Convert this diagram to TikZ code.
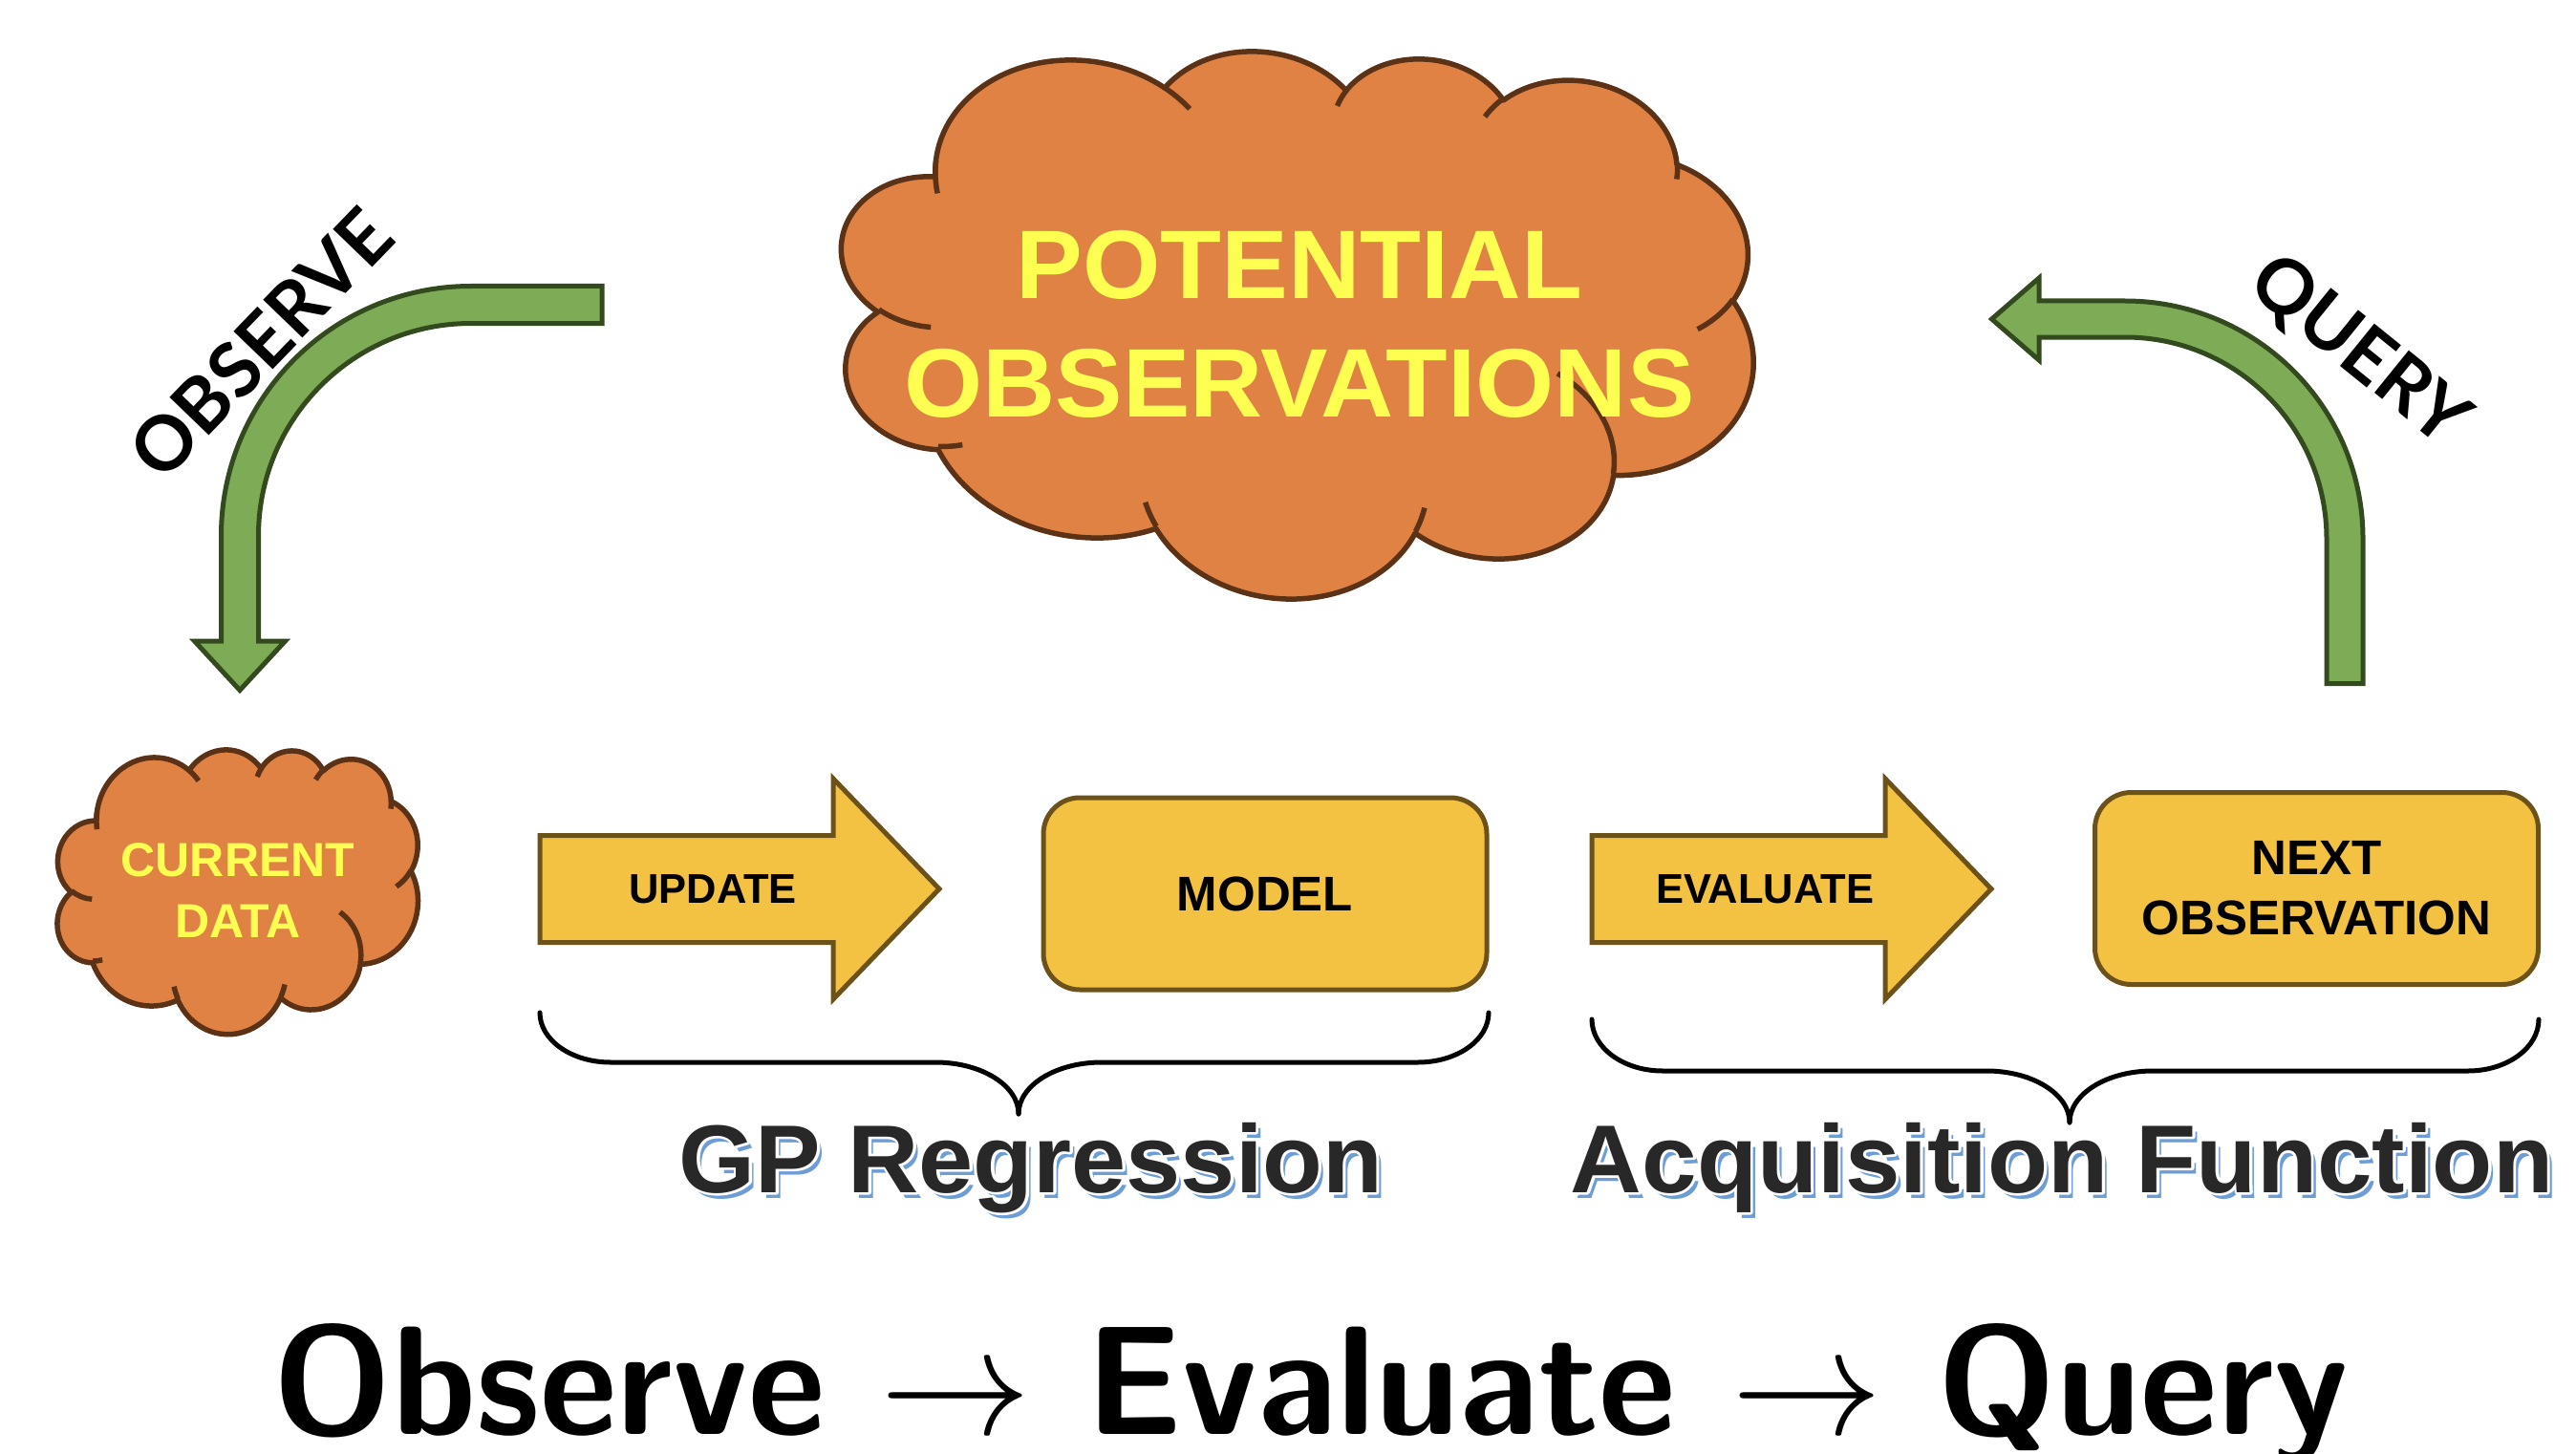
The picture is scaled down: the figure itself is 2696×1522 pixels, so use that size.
\documentclass[tikz,border=0pt]{standalone}
\usepackage{graphicx}
\usepackage{fontspec}
\newfontfamily\shapefont{Liberation Sans}
\newfontfamily\turnfont{Lato}

\definecolor{cloudfill}{RGB}{223,130,68}
\definecolor{cloudline}{RGB}{92,50,22}
\definecolor{cloudtext}{RGB}{255,255,82}
\definecolor{goldfill}{RGB}{244,194,66}
\definecolor{goldline}{RGB}{108,82,25}
\definecolor{greenfill}{RGB}{126,171,85}
\definecolor{greenline}{RGB}{50,74,30}
\definecolor{labelgray}{RGB}{40,40,40}
\definecolor{shadowblue}{RGB}{108,157,215}

% text with a white halo: a stroked white copy under the filled text
\newcommand\haloed[1]{\leavevmode\rlap{\color{white}%
  \special{pdf:literal direct 1 Tr 5.2 w 1 j}#1\special{pdf:literal direct 0 Tr}}#1}

% thin computer-modern arrow enlarged to the size of the bottom line
\newcommand\bigto{\scalebox{16.2}{\fontsize{10}{12}\selectfont$\rightarrow$}}

% Elliptic arc given DrawingML style: radii, start angle and sweep are
% visual angles; they are turned into parametric angles for TikZ.
\newcommand\cloudarc[4]{%
  \pgfextra{%
    \pgfmathparse{atan2((#1)*sin(#3),(#2)*cos(#3))}\global\let\cldA\pgfmathresult
    \pgfmathparse{atan2((#1)*sin((#3)+(#4)),(#2)*cos((#3)+(#4)))}\global\let\cldB\pgfmathresult
    \pgfmathparse{mod((\cldB)-(\cldA)+720,360)}\global\let\cldD\pgfmathresult
  }%
  arc[start angle=\cldA, delta angle=\cldD, x radius=#1, y radius=#2]%
}

% Cloud outline (432 x 432 design box, centred on the origin),
% placed at (#1,#2), stretched to #3 x #4 and turned slightly.
\newcommand\ooxcloud[4]{%
  \pgfmathsetmacro\cldsx{(#3)/432}%
  \pgfmathsetmacro\cldsy{(#4)/432}%
  \begin{scope}[shift={(#1,#2)}, rotate=8, xscale=\cldsx, yscale=\cldsy]
    \filldraw[cloudbody] (-177.00,-72.30)
      \cloudarc{67.53}{91.90}{-190.48748}{123.78053}
      \cloudarc{53.33}{72.67}{-144.10238}{89.94523}
      \cloudarc{43.65}{59.45}{-145.80792}{99.72302}
      \cloudarc{48.57}{65.95}{-130.98607}{117.24173}
      \cloudarc{53.33}{72.73}{-78.70888}{109.02692}
      \cloudarc{67.75}{92.20}{-46.26725}{130.26900}
      \cloudarc{57.85}{78.67}{0.62502}{114.03333}
      \cloudarc{67.52}{92.15}{22.45160}{115.17255}
      \cloudarc{77.20}{105.43}{66.24263}{75.22347}
      \cloudarc{43.60}{59.45}{-274.94208}{146.73557}
      \cloudarc{43.45}{59.45}{-246.82850}{152.51885}
      -- cycle;
    \draw[cloudrim]
      (-169.07,45.77) \cloudarc{43.45}{59.45}{86.74200}{26.42950}
      (-146.72,132.99) \cloudarc{43.60}{59.45}{73.61047}{11.44747}
      (-51.22,174.90) \cloudarc{67.52}{92.15}{137.62415}{14.08110}
      (72.27,131.51) \cloudarc{67.52}{92.15}{6.45327}{15.99835}
      (125.29,13.54) \cloudarc{57.85}{78.67}{-70.29235}{70.91737}
      (201.98,-62.46) \cloudarc{53.33}{72.73}{30.31803}{27.75150}
      (167.24,-161.74) \cloudarc{48.57}{65.95}{-13.74433}{14.85890}
      (74.78,-176.48) \cloudarc{48.57}{65.95}{-149.18145}{18.19537}
      (5.41,-168.80) \cloudarc{43.65}{59.45}{-163.49427}{17.68635}
      (-76.00,-164.08) \cloudarc{67.53}{91.90}{-66.70695}{12.31935}
      (-174.73,-58.11) \cloudarc{67.53}{91.90}{157.96947}{21.19580};
  \end{scope}}

\tikzset{
  cloudbody/.style={fill=cloudfill, draw=cloudline, line width=5.5pt, line join=round},
  cloudrim/.style={draw=cloudline, line width=5.5pt},
  cloudlabel/.style={text=cloudtext, inner sep=0pt, align=center},
  greenarrow/.style={fill=greenfill, draw=greenline, line width=5pt, line join=miter},
  goldarrow/.style={fill=goldfill, draw=goldline, line width=5pt, line join=miter},
  goldbox/.style={rectangle, fill=goldfill, draw=goldline, line width=5pt,
    rounded corners=38pt, minimum width=464pt, minimum height=201pt,
    inner sep=0pt, align=center, text=black,
    font=\shapefont\bfseries\fontsize{51}{63}\selectfont},
  arrowlabel/.style={inner sep=0pt, text=black,
    font=\shapefont\bfseries\fontsize{43.5}{50}\selectfont},
  turnlabel/.style={inner sep=0pt, text=black,
    font=\turnfont\bfseries\fontsize{79}{90}\selectfont},
  bracket/.style={draw=black, line width=5pt, line cap=round, line join=round},
  grouplabel/.style={anchor=base, inner sep=0pt,
    font=\shapefont\bfseries\fontsize{101}{110}\selectfont},
}

\begin{document}
\begin{tikzpicture}[x=1pt, y=1pt, yscale=-1]
  \fill[white] (0,0) rectangle (2696,1522);
  \useasboundingbox (0,0) rectangle (2696,1522);

  % clouds
  \ooxcloud{1356}{334}{963}{581}
  \node[cloudlabel, anchor=north,
        font=\shapefont\bfseries\fontsize{102}{124}\selectfont]
        (potential) at (1360,241)
        {\scalebox{1.025}[1]{POTENTIAL}\\\scalebox{1.035}[1]{OBSERVATIONS}};

  \ooxcloud{248}{930}{380}{304}
  \node[cloudlabel, font=\shapefont\bfseries\fontsize{50}{64}\selectfont]
        (current) at (249,932) {CURRENT\\DATA};

  % curved green arrows
  \draw[greenarrow] (630,299.5) -- (493,299.5)
    arc[start angle=-90, end angle=-180, radius=261.5]
    -- (231.5,671) -- (203.5,671) -- (251,722.5) -- (298.5,671) -- (270.5,671)
    -- (270.5,561) arc[start angle=180, end angle=270, radius=222.5]
    -- (630,338.5) -- cycle;
  \node[turnlabel, rotate=46] (observe) at (273,359) {OBSERVE};

  \draw[greenarrow] (2473,715.5) -- (2473,564)
    arc[start angle=0, end angle=-90, radius=249]
    -- (2134,315) -- (2134,291) -- (2084.5,334) -- (2134,377) -- (2134,353)
    -- (2224,353) arc[start angle=-90, end angle=0, radius=211]
    -- (2435,715.5) -- cycle;
  \node[turnlabel, rotate=-39] (query) at (2468,368) {QUERY};

  % block arrows and boxes
  \draw[goldarrow] (565,874.5) -- (872,874.5) -- (872,815) -- (983,930.5)
    -- (872,1046) -- (872,986.5) -- (565,986.5) -- cycle;
  \node[arrowlabel] (update) at (746,931) {UPDATE};

  \node[goldbox] (model) at (1324,935.5) {MODEL};

  \draw[goldarrow] (1666,874.5) -- (1973,874.5) -- (1973,815) -- (2084,930.5)
    -- (1973,1046) -- (1973,986.5) -- (1666,986.5) -- cycle;
  \node[arrowlabel] (evaluate) at (1847,931) {EVALUATE};

  \node[goldbox] (nextobs) at (2424.5,930) {NEXT\\OBSERVATION};

  % braces
  \coordinate (gpL) at (565,1060);
  \coordinate (gpTip) at (1066,1166);
  \coordinate (gpR) at (1558,1060);
  \draw[bracket] (gpL) arc[start angle=180, end angle=90, x radius=74, y radius=52]
    -- (979,1112) arc[start angle=-90, end angle=0, x radius=87, y radius=54];
  \draw[bracket] (gpTip) arc[start angle=180, end angle=270, x radius=87, y radius=54]
    -- (1484,1112) arc[start angle=90, end angle=0, x radius=74, y radius=52];

  \coordinate (afL) at (1666,1067);
  \coordinate (afTip) at (2166,1175);
  \coordinate (afR) at (2657,1067);
  \draw[bracket] (afL) arc[start angle=180, end angle=90, x radius=74, y radius=54]
    -- (2079,1121) arc[start angle=-90, end angle=0, x radius=87, y radius=54];
  \draw[bracket] (afTip) arc[start angle=180, end angle=270, x radius=87, y radius=54]
    -- (2583,1121) arc[start angle=90, end angle=0, x radius=74, y radius=54];

  % group labels with offset shadow
  \node[grouplabel, text=shadowblue] (gpshadow) at (1084,1254)
    {\scalebox{1.017}[1]{GP Regression}};
  \node[grouplabel, text=labelgray] (gp) at (1079,1248)
    {\scalebox{1.017}[1]{\haloed{GP Regression}}};
  \node[grouplabel, text=shadowblue] (afshadow) at (2163,1254)
    {\scalebox{1.024}[1]{Acquisition Function}};
  \node[grouplabel, text=labelgray] (af) at (2158,1248)
    {\scalebox{1.024}[1]{\haloed{Acquisition Function}}};

  % bottom line
  \node[anchor=base, inner sep=0pt,
        font=\sffamily\bfseries\fontsize{162}{170}\selectfont]
        (motto) at (1372,1501)
        {\scalebox{0.972}[1]{Observe \bigto{} Evaluate \bigto{} Query}};
\end{tikzpicture}
\end{document}
